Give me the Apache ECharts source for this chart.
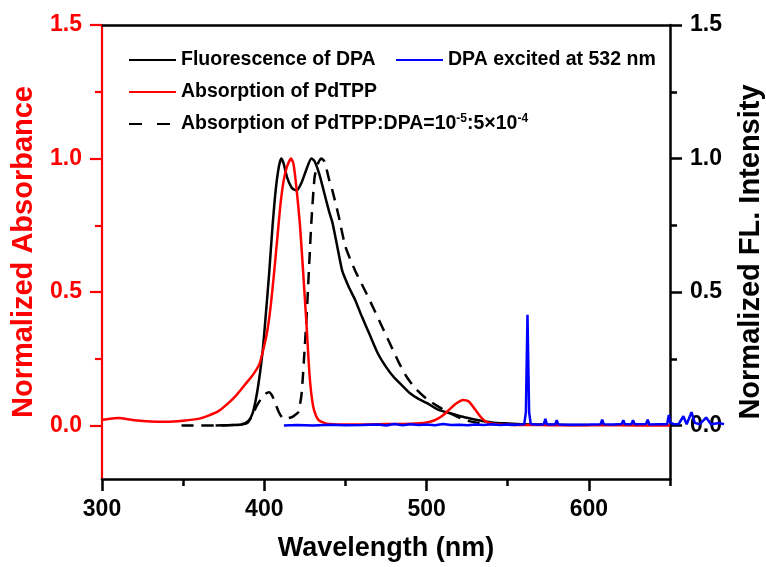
<!DOCTYPE html>
<html>
<head>
<meta charset="utf-8">
<script src="https://cdn.jsdelivr.net/npm/echarts@6/dist/echarts.min.js"></script>
<style>
  html, body { margin: 0; padding: 0; background: #ffffff; }
  #chart { width: 766px; height: 567px; }
</style>
</head>
<body>
<div id="chart"></div>
<script>
// Wavelength axis ticks and value-axis ticks
const xMajorTicks = [300, 400, 500, 600];
const xMinorTicks = [350, 450, 550, 650];
const yMajorTicks = [0, 0.5, 1.0, 1.5];
const yMinorTicks = [0.25, 0.75, 1.25];

// Fluorescence of DPA (normalized)
const flWl = [370, 380, 386, 390, 393, 396, 399, 401, 403, 405, 407, 409, 410.5, 412, 414, 417, 420, 423, 426, 429, 431, 434, 437, 440, 442, 445, 448, 452, 456, 460, 465, 470, 475, 480, 485, 490, 495, 500, 507, 515, 524, 532, 540, 550, 560, 570, 580, 590, 600];
const flVal = [0.0, 0.002, 0.004, 0.012, 0.05, 0.14, 0.28, 0.42, 0.57, 0.74, 0.88, 0.97, 1.0, 0.98, 0.93, 0.89, 0.88, 0.91, 0.96, 1.0, 0.99, 0.94, 0.87, 0.8, 0.76, 0.67, 0.58, 0.52, 0.47, 0.41, 0.34, 0.27, 0.22, 0.18, 0.15, 0.12, 0.1, 0.085, 0.06, 0.045, 0.03, 0.02, 0.012, 0.008, 0.005, 0.004, 0.003, 0.002, 0.002];

// DPA excited at 532 nm (normalized); the record runs a little past 650 nm
const exWl = [412, 420, 430, 440, 450, 460, 470, 475, 480, 485, 490, 495, 500, 505, 510, 515, 520, 525, 530, 535, 540, 545, 550, 555, 560, 561, 562, 563, 564, 568, 572, 573, 574, 579, 580, 581, 590, 600, 607, 608, 609, 615, 620, 621, 622, 626, 627, 628, 635, 636, 637, 643, 648, 649, 650, 652, 655, 658, 660, 663, 665, 668, 672, 675, 680, 683];
const exVal = [0.0, 0.002, 0.0, 0.003, 0.001, 0.002, 0.004, 0.0, 0.006, 0.001, 0.005, 0.002, 0.004, 0.001, 0.006, 0.002, 0.003, 0.001, 0.004, 0.002, 0.005, 0.002, 0.004, 0.003, 0.005, 0.05, 0.415, 0.05, 0.006, 0.003, 0.005, 0.025, 0.004, 0.004, 0.02, 0.004, 0.003, 0.004, 0.005, 0.022, 0.005, 0.004, 0.006, 0.02, 0.005, 0.005, 0.02, 0.005, 0.006, 0.022, 0.004, 0.005, 0.005, 0.04, 0.01, 0.006, 0.005, 0.035, 0.005, 0.05, 0.01, 0.005, 0.03, 0.005, 0.01, 0.005];

// Absorption of PdTPP (normalized)
const absWl = [300, 305, 310, 315, 320, 330, 340, 350, 360, 366, 372, 378, 383, 389, 393, 397, 400, 402, 404, 406, 408, 410, 412, 414, 416.5, 418, 420, 422, 424, 426, 428, 430, 432, 434, 437, 440, 450, 460, 470, 480, 490, 500, 505, 510, 514, 518, 522.5, 526, 530, 533, 536, 540, 545, 550, 560, 570, 580, 600, 620, 640, 650];
const absVal = [0.022, 0.026, 0.028, 0.025, 0.02, 0.015, 0.014, 0.018, 0.026, 0.038, 0.055, 0.085, 0.115, 0.16, 0.19, 0.23, 0.3, 0.36, 0.45, 0.57, 0.7, 0.83, 0.92, 0.97, 1.0, 0.98, 0.88, 0.75, 0.57, 0.38, 0.18, 0.075, 0.035, 0.018, 0.01, 0.006, 0.004, 0.004, 0.005, 0.006, 0.007, 0.012, 0.02, 0.038, 0.06, 0.082, 0.096, 0.09, 0.06, 0.035, 0.017, 0.008, 0.004, 0.003, 0.002, 0.002, 0.001, 0.001, 0.001, 0.0, 0.0];

// Absorption of PdTPP:DPA mixture (normalized)
const mixWl = [349, 360, 370, 380, 388, 392, 395, 398, 401, 403, 405, 407, 409, 411, 413, 415, 417, 419, 421, 423, 425, 426, 427, 429, 431, 433, 435, 437, 440, 442, 446, 450, 456, 462.5, 468, 472.6, 478, 483, 488, 493, 500, 507.5, 515, 524, 530, 536, 545, 555];
const mixVal = [0, 0, 0, 0.002, 0.008, 0.03, 0.07, 0.1, 0.12, 0.125, 0.11, 0.08, 0.05, 0.03, 0.025, 0.028, 0.032, 0.04, 0.05, 0.12, 0.3, 0.4, 0.52, 0.76, 0.93, 0.98, 1.0, 0.99, 0.92, 0.88, 0.78, 0.67, 0.58, 0.5, 0.43, 0.37, 0.3, 0.235, 0.18, 0.14, 0.1, 0.07, 0.045, 0.02, 0.012, 0.008, 0.004, 0.002];

const NAME_FL = 'Fluorescence of DPA';
const NAME_EX = 'DPA excited at 532 nm';
const NAME_ABS = 'Absorption of PdTPP';
const NAME_MIX = 'Absorption of PdTPP:DPA';

const FONT = "'Liberation Sans', Arial, sans-serif";
const RED = '#ff0000';
const BLACK = '#000000';
const BLUE = '#0000ff';

// Plot frame (pixels) and the wavelength span it covers
const FRAME = { left: 102, right: 96, top: 25, bottom: 88 };
const X_MIN = 300, X_MAX = 650;
const Y_MIN = -0.2, Y_MAX = 1.5;
// The excitation trace runs past the frame edge, so it gets its own wider
// grid at the same nm-per-pixel scale.
const EX_X_MAX = 683;
const pxPerNm = (766 - FRAME.left - FRAME.right) / (X_MAX - X_MIN);
const exGridRight = 766 - FRAME.left - Math.round((EX_X_MAX - X_MIN) * pxPerNm);

const pairs = (xs, ys) => xs.map((x, i) => [x, ys[i]]);

const legendText = { color: BLACK, fontFamily: FONT, fontWeight: 'bold', fontSize: 19.5 };

function legendAt(name, left, top, extra) {
  return Object.assign({
    data: [name],
    left: left,
    top: top,
    orient: 'horizontal',
    padding: 0,
    itemWidth: 47,
    itemHeight: 14,
    itemGap: 0,
    selectedMode: false,
    itemStyle: { opacity: 0 },
    textStyle: Object.assign({}, legendText)
  }, extra || {});
}

const baseY = { type: 'value', min: Y_MIN, max: Y_MAX, splitLine: { show: false } };
const baseX = { type: 'value', min: X_MIN, max: X_MAX, splitLine: { show: false } };

const option = {
  animation: false,
  backgroundColor: '#ffffff',
  grid: [
    { left: FRAME.left, right: FRAME.right, top: FRAME.top, bottom: FRAME.bottom,
      containLabel: false, outerBoundsMode: 'none' },
    { left: FRAME.left, right: exGridRight, top: FRAME.top, bottom: FRAME.bottom,
      containLabel: false, outerBoundsMode: 'none' }
  ],
  legend: [
    legendAt(NAME_FL, 128, 50),
    legendAt(NAME_ABS, 128, 82),
    legendAt(NAME_MIX, 128, 113, {
      lineStyle: { type: [13, 15] },
      formatter: () => 'Absorption of PdTPP:DPA=10{sup|-5}:5×10{sup|-4}',
      textStyle: Object.assign({}, legendText, {
        rich: {
          sup: { fontFamily: FONT, fontWeight: 'bold', fontSize: 12, color: BLACK, verticalAlign: 'top', padding: [0, 0, 10, 0] }
        }
      })
    }),
    legendAt(NAME_EX, 395, 50)
  ],
  xAxis: [
    Object.assign({}, baseX, {
      gridIndex: 0,
      position: 'bottom',
      name: 'Wavelength (nm)',
      nameLocation: 'middle',
      nameGap: 56,
      nameTextStyle: { color: BLACK, fontFamily: FONT, fontWeight: 'bold', fontSize: 27 },
      axisLine: { show: true, onZero: false, lineStyle: { color: BLACK, width: 2.5 } },
      axisTick: { show: true, inside: false, length: 12, customValues: xMajorTicks, lineStyle: { color: BLACK, width: 2.5 } },
      axisLabel: { customValues: xMajorTicks, margin: 19, color: BLACK, fontFamily: FONT, fontWeight: 'bold', fontSize: 23 }
    }),
    Object.assign({}, baseX, {
      gridIndex: 0,
      position: 'bottom',
      axisLine: { show: false, onZero: false },
      axisTick: { show: true, inside: false, length: 7, customValues: xMinorTicks, lineStyle: { color: BLACK, width: 2.5 } },
      axisLabel: { show: false }
    }),
    Object.assign({}, baseX, {
      gridIndex: 0,
      position: 'top',
      axisLine: { show: true, onZero: false, lineStyle: { color: BLACK, width: 2.5 } },
      axisTick: { show: false },
      axisLabel: { show: false }
    }),
    {
      type: 'value', gridIndex: 1, min: X_MIN, max: EX_X_MAX, show: false,
      axisLine: { onZero: false }, splitLine: { show: false }
    }
  ],
  yAxis: [
    Object.assign({}, baseY, {
      gridIndex: 0,
      position: 'left',
      name: 'Normalized Absorbance',
      nameLocation: 'middle',
      nameRotate: 90,
      nameGap: 64,
      nameTextStyle: { color: RED, fontFamily: FONT, fontWeight: 'bold', fontSize: 29 },
      axisLine: { show: true, onZero: false, lineStyle: { color: RED, width: 2.2 } },
      axisTick: { show: true, inside: false, length: 12, customValues: yMajorTicks, lineStyle: { color: RED, width: 2.2 } },
      axisLabel: { customValues: yMajorTicks, margin: 20, color: RED, fontFamily: FONT, fontWeight: 'bold', fontSize: 23,
        formatter: v => v.toFixed(1) }
    }),
    Object.assign({}, baseY, {
      gridIndex: 0,
      position: 'left',
      axisLine: { show: false, onZero: false },
      axisTick: { show: true, inside: false, length: 7, customValues: yMinorTicks, lineStyle: { color: RED, width: 2.2 } },
      axisLabel: { show: false }
    }),
    Object.assign({}, baseY, {
      gridIndex: 0,
      position: 'right',
      name: 'Normalized FL. Intensity',
      nameLocation: 'middle',
      nameRotate: 90,
      nameGap: 66,
      nameTextStyle: { color: BLACK, fontFamily: FONT, fontWeight: 'bold', fontSize: 29 },
      axisLine: { show: true, onZero: false, lineStyle: { color: BLACK, width: 2.5 } },
      axisTick: { show: true, inside: false, length: 12, customValues: yMajorTicks, lineStyle: { color: BLACK, width: 2.5 } },
      axisLabel: { customValues: yMajorTicks, margin: 20, color: BLACK, fontFamily: FONT, fontWeight: 'bold', fontSize: 23,
        formatter: v => v.toFixed(1) }
    }),
    Object.assign({}, baseY, {
      gridIndex: 0,
      position: 'right',
      axisLine: { show: false, onZero: false },
      axisTick: { show: true, inside: false, length: 7, customValues: yMinorTicks, lineStyle: { color: BLACK, width: 2.5 } },
      axisLabel: { show: false }
    }),
    {
      type: 'value', gridIndex: 1, min: Y_MIN, max: Y_MAX, show: false,
      axisLine: { onZero: false }, splitLine: { show: false }
    }
  ],
  series: [
    {
      name: NAME_FL, type: 'line', xAxisIndex: 0, yAxisIndex: 2,
      data: pairs(flWl, flVal), symbol: 'none', smooth: 0.2,
      lineStyle: { color: BLACK, width: 2.5 }, itemStyle: { color: BLACK }, z: 3
    },
    {
      name: NAME_MIX, type: 'line', xAxisIndex: 0, yAxisIndex: 0,
      data: pairs(mixWl, mixVal), symbol: 'none', smooth: 0.2,
      lineStyle: { color: BLACK, width: 2.5, type: [12, 8] }, itemStyle: { color: BLACK }, z: 3
    },
    {
      name: NAME_ABS, type: 'line', xAxisIndex: 0, yAxisIndex: 0,
      data: pairs(absWl, absVal), symbol: 'none', smooth: 0.2,
      lineStyle: { color: RED, width: 2.5 }, itemStyle: { color: RED }, z: 4
    },
    {
      name: NAME_EX, type: 'line', xAxisIndex: 3, yAxisIndex: 4,
      data: pairs(exWl, exVal), symbol: 'none',
      lineStyle: { color: BLUE, width: 2.5 }, itemStyle: { color: BLUE }, z: 5
    }
  ]
};

const chart = echarts.init(document.getElementById('chart'), null, { renderer: 'canvas' });
chart.setOption(option);
</script>
</body>
</html>
